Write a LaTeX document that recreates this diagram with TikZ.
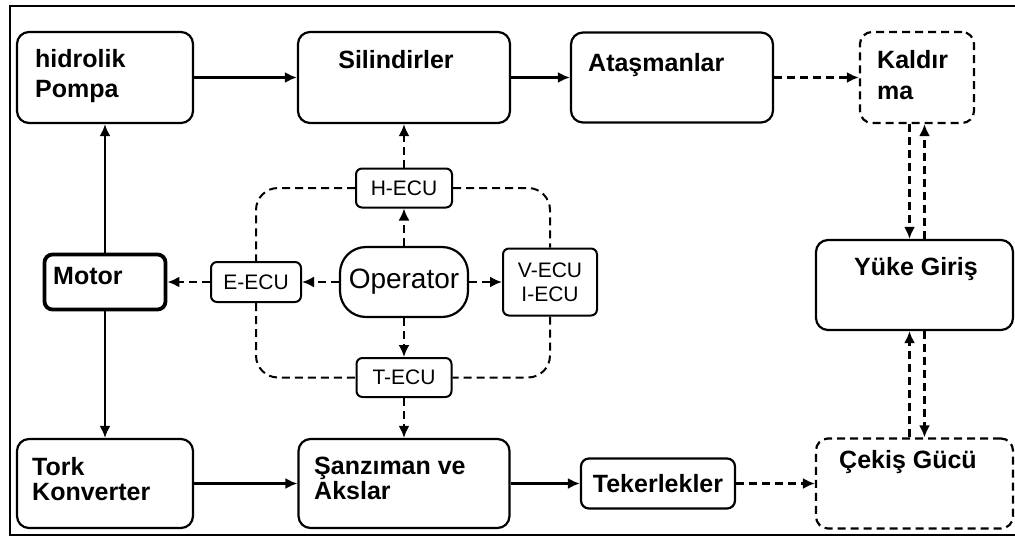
\documentclass[tikz,border=0pt]{standalone}
\usepackage{fontspec}
\setmainfont{Liberation Sans}
\usetikzlibrary{arrows.meta}
\usetikzlibrary{positioning}

\begin{document}
\begin{tikzpicture}[x=1pt,y=-1pt,>={Latex[length=12pt,width=11pt]},
    big box/.style={rectangle,draw,rounded corners=12pt,line width=2.2pt,inner sep=0pt},
    dash box/.style={big box,dash pattern=on 8pt off 5pt},
    ecu node/.style={rectangle,draw,rounded corners=6pt,line width=2pt,inner sep=0pt,align=center,font=\fontsize{21}{24}\selectfont},
    box text/.style={inner sep=0pt,anchor=north west,align=left,font=\fontsize{25}{30}\bfseries\selectfont},
    solid link/.style={->,line width=2.2pt},
    dash link/.style={->,line width=2.2pt,dash pattern=on 8pt off 5pt}]
   \useasboundingbox (0,0) rectangle (1015,536);
   \fill[white] (0,0) rectangle (1015,536);
   \draw[line width=2.4pt] (1016,6) -- (10,6) -- (10,535) -- (1016,535);
   \begin{scope}
     % upper row
     \node[big box,minimum width=176pt,minimum height=91pt] (pompa) at (105,77.5) {};
     \node[big box,minimum width=212pt,minimum height=91pt] (silindir) at (404,77.5) {};
     \node[big box,minimum width=202pt,minimum height=90pt] (atasman) at (672,77.5) {};
     \node[dash box,minimum width=114pt,minimum height=91pt] (kaldirma) at (917,77.5) {};
     % right column
     \node[big box,minimum width=197pt,minimum height=90pt] (yuke) at (914.5,285) {};
     \node[dash box,minimum width=197pt,minimum height=90pt] (cekis) at (914.5,483.5) {};
     % lower row
     \node[big box,minimum width=176pt,minimum height=89pt] (tork) at (105,483.5) {};
     \node[big box,minimum width=211pt,minimum height=89pt] (sanziman) at (404,483.5) {};
     \node[big box,rounded corners=8pt,minimum width=154pt,minimum height=50pt,font=\fontsize{25}{30}\bfseries\selectfont] (teker) at (658,483.5) {Tekerlekler};
     % middle: motor, operator and the ECUs
     \node[big box,rounded corners=8pt,line width=3.8pt,minimum width=121pt,minimum height=55pt] (motor) at (105,282) {};
     \node[big box,rounded corners=26pt,minimum width=128pt,minimum height=70pt,font=\fontsize{28}{32}\selectfont] (operator) at (404,282) {Operator};
     \node[ecu node,minimum width=90pt,minimum height=40pt] (eecu) at (256,282) {E-ECU};
     \node[ecu node,minimum width=96pt,minimum height=39pt] (hecu) at (404,188) {H-ECU};
     \node[ecu node,minimum width=95pt,minimum height=39pt] (tecu) at (404,377.5) {T-ECU};
     \node[ecu node,minimum width=94pt,minimum height=67pt] (vecu) at (550,282) {V-ECU\\I-ECU};
     % texts in the boxes
     \node[box text] (pompa-t) at (35,49) {hidrolik\\Pompa};
     \node[box text,anchor=north] (silindir-t) at (396,50) {Silindirler};
     \node[box text] (atasman-t) at (588,53) {Ataşmanlar};
     \node[box text,font=\fontsize{25}{31}\bfseries\selectfont] (kaldirma-t) at (877,50) {Kaldır\\ma};
     \node[box text,anchor=north] (yuke-t) at (916,257) {Yüke Giriş};
     \node[box text,anchor=north] (cekis-t) at (908,450) {Çekiş Gücü};
     \node[box text] (motor-t) at (53,267) {Motor};
     \node[box text,font=\fontsize{25}{25}\bfseries\selectfont] (tork-t) at (32,457) {Tork\\Konverter};
     \node[box text,font=\fontsize{25}{25}\bfseries\selectfont] (sanziman-t) at (314,457) {Şanzıman ve\\Akslar};
     % links
     \path[solid link] (pompa.east) edge (silindir.west);
     \path[solid link] (silindir.east) edge (atasman.west);
     \path[dash link] (atasman.east) edge (kaldirma.west);
     \path[solid link] (motor.north) edge (pompa.south);
     \path[solid link] (motor.south) edge (tork.north);
     \path[solid link] (tork.east) edge (sanziman.west);
     \path[solid link] (sanziman.east) edge (teker.west);
     \path[dash link] (teker.east) edge (cekis.west);
     \path[dash link] (operator.north) edge (hecu.south);
     \path[dash link] (hecu.north) edge (silindir.south);
     \path[dash link] (operator.south) edge (tecu.north);
     \path[dash link] (tecu.south) edge (sanziman.north);
     \path[dash link] (operator.west) edge (eecu.east);
     \path[dash link] (eecu.west) edge (motor.east);
     \path[dash link] (operator.east) edge (vecu.west);
     % two way links on the right
     \coordinate (kl) at ([xshift=-7.5pt]kaldirma.south);
     \coordinate (kr) at ([xshift=7.5pt]kaldirma.south);
     \path[dash link] (kl) edge (kl |- yuke.north);
     \path[dash link] (kr |- yuke.north) edge (kr);
     \path[dash link] (kl |- cekis.north) edge (kl |- yuke.south);
     \path[dash link] (kr |- yuke.south) edge (kr |- cekis.north);
     % the ECU loop
     \draw[line width=2pt,dash pattern=on 8pt off 5pt,rounded corners=22pt] (hecu.west) -| (eecu.north) (hecu.east) -| (vecu.north)
        (eecu.south) |- (tecu.west) (vecu.south) |- (tecu.east);
   \end{scope}
\end{tikzpicture}
\end{document}
